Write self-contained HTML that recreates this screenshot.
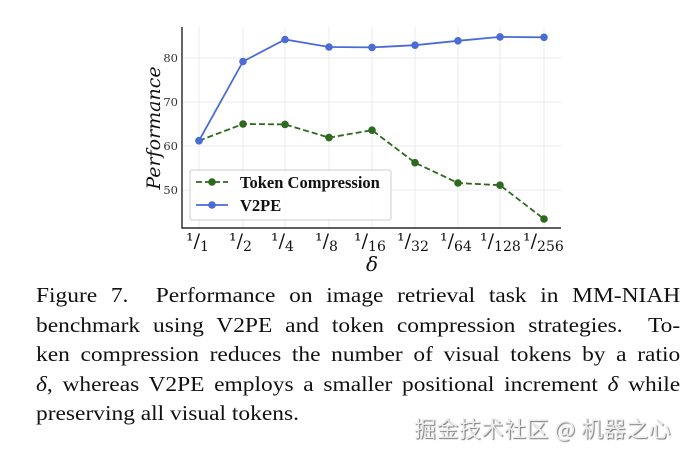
<!DOCTYPE html>
<html><head><meta charset="utf-8"><style>
body{margin:0;width:698px;height:454px;background:#fff;overflow:hidden;position:relative}
.cap{position:absolute;left:36px;width:591px;font-family:"Liberation Serif",serif;font-size:21.5px;color:#111;line-height:29.5px;transform:scaleX(1.09);transform-origin:0 0}
.cap div{text-align:justify;text-align-last:justify;white-space:nowrap}
.cap div.last{text-align-last:left}
.wm{position:absolute;left:414px;top:412px;font-family:"Noto Sans CJK SC",sans-serif;font-size:22px;color:#ececec;text-shadow:1px 1px 1px #777;letter-spacing:0.5px}
</style></head><body>
<svg width="698" height="280" style="position:absolute;left:0;top:0" font-family="DejaVu Serif, serif">
<g stroke="#ebebeb" stroke-width="1">
<line x1="199" y1="27" x2="199" y2="228"/><line x1="243" y1="27" x2="243" y2="228"/><line x1="285" y1="27" x2="285" y2="228"/><line x1="329" y1="27" x2="329" y2="228"/><line x1="372" y1="27" x2="372" y2="228"/><line x1="415" y1="27" x2="415" y2="228"/><line x1="458" y1="27" x2="458" y2="228"/><line x1="500" y1="27" x2="500" y2="228"/><line x1="544" y1="27" x2="544" y2="228"/>
<line x1="182" y1="58" x2="561" y2="58"/><line x1="182" y1="102" x2="561" y2="102"/><line x1="182" y1="146" x2="561" y2="146"/><line x1="182" y1="190" x2="561" y2="190"/>
</g>
<path d="M182 27V228H561" fill="none" stroke="#000" stroke-width="1.2"/>
<g font-size="11.5" fill="#333" text-anchor="end">
<text x="178" y="62">80</text><text x="178" y="106">70</text><text x="178" y="150">60</text><text x="178" y="194">50</text>
</g>
<text transform="translate(160,128) rotate(-90)" font-size="19" font-style="italic" text-anchor="middle" fill="#111">Performance</text>
<g font-size="19" fill="#111">
<text x="186" y="247">¹/<tspan font-size="14" dy="4">1</tspan></text>
<text x="229" y="247">¹/<tspan font-size="14" dy="4">2</tspan></text>
<text x="271" y="247">¹/<tspan font-size="14" dy="4">4</tspan></text>
<text x="315" y="247">¹/<tspan font-size="14" dy="4">8</tspan></text>
<text x="354" y="247">¹/<tspan font-size="14" dy="4">16</tspan></text>
<text x="397" y="247">¹/<tspan font-size="14" dy="4">32</tspan></text>
<text x="440" y="247">¹/<tspan font-size="14" dy="4">64</tspan></text>
<text x="480" y="247">¹/<tspan font-size="14" dy="4">128</tspan></text>
<text x="523" y="247">¹/<tspan font-size="14" dy="4">256</tspan></text>
</g>
<text x="372" y="271" font-size="20" font-style="italic" text-anchor="middle" fill="#111">δ</text>
<polyline fill="none" stroke="#4a6cd4" stroke-width="1.8" points="199,140.7 243,61.5 285,39.5 329,47 372,47.4 415,45.2 458,40.8 500,36.9 544,37.3"/>
<g fill="#4a6cd4"><circle cx="199" cy="140.7" r="3.8"/><circle cx="243" cy="61.5" r="3.8"/><circle cx="285" cy="39.5" r="3.8"/><circle cx="329" cy="47" r="3.8"/><circle cx="372" cy="47.4" r="3.8"/><circle cx="415" cy="45.2" r="3.8"/><circle cx="458" cy="40.8" r="3.8"/><circle cx="500" cy="36.9" r="3.8"/><circle cx="544" cy="37.3" r="3.8"/></g>
<polyline fill="none" stroke="#2d6a1f" stroke-width="1.8" stroke-dasharray="6,3" points="199,140.7 243,124 285,124.4 329,137.6 372,130.2 415,162.7 458,183 500,185.2 544,219"/>
<g fill="#2d6a1f"><circle cx="243" cy="124" r="3.8"/><circle cx="285" cy="124.4" r="3.8"/><circle cx="329" cy="137.6" r="3.8"/><circle cx="372" cy="130.2" r="3.8"/><circle cx="415" cy="162.7" r="3.8"/><circle cx="458" cy="183" r="3.8"/><circle cx="500" cy="185.2" r="3.8"/><circle cx="544" cy="219" r="3.8"/></g>
<circle cx="199" cy="140.7" r="3.8" fill="#4a6cd4"/>
<rect x="190" y="170" width="201" height="50" rx="2" fill="#fff" fill-opacity="0.85" stroke="#ccc"/>
<line x1="196" y1="182" x2="228" y2="182" stroke="#2d6a1f" stroke-width="1.8" stroke-dasharray="6,3"/><circle cx="212" cy="182" r="3.8" fill="#2d6a1f"/>
<line x1="196" y1="205" x2="228" y2="205" stroke="#4a6cd4" stroke-width="1.8"/><circle cx="212" cy="205" r="3.8" fill="#4a6cd4"/>
<g font-weight="bold" fill="#111" font-family="Liberation Serif, serif"><text x="240" y="188" font-size="16.5">Token Compression</text><text x="240" y="211" font-size="16.5">V2PE</text></g>
</svg>
<div class="cap" style="top:281px">
<div>Figure 7.&nbsp; Performance on image retrieval task in MM-NIAH</div>
<div>benchmark using V2PE and token compression strategies.&nbsp; To-</div>
<div>ken compression reduces the number of visual tokens by a ratio</div>
<div><i>δ</i>, whereas V2PE employs a smaller positional increment <i>δ</i> while</div>
<div class="last">preserving all visual tokens.</div>
</div>
<div class="wm">掘金技术社区 @ 机器之心</div>
</body></html>
